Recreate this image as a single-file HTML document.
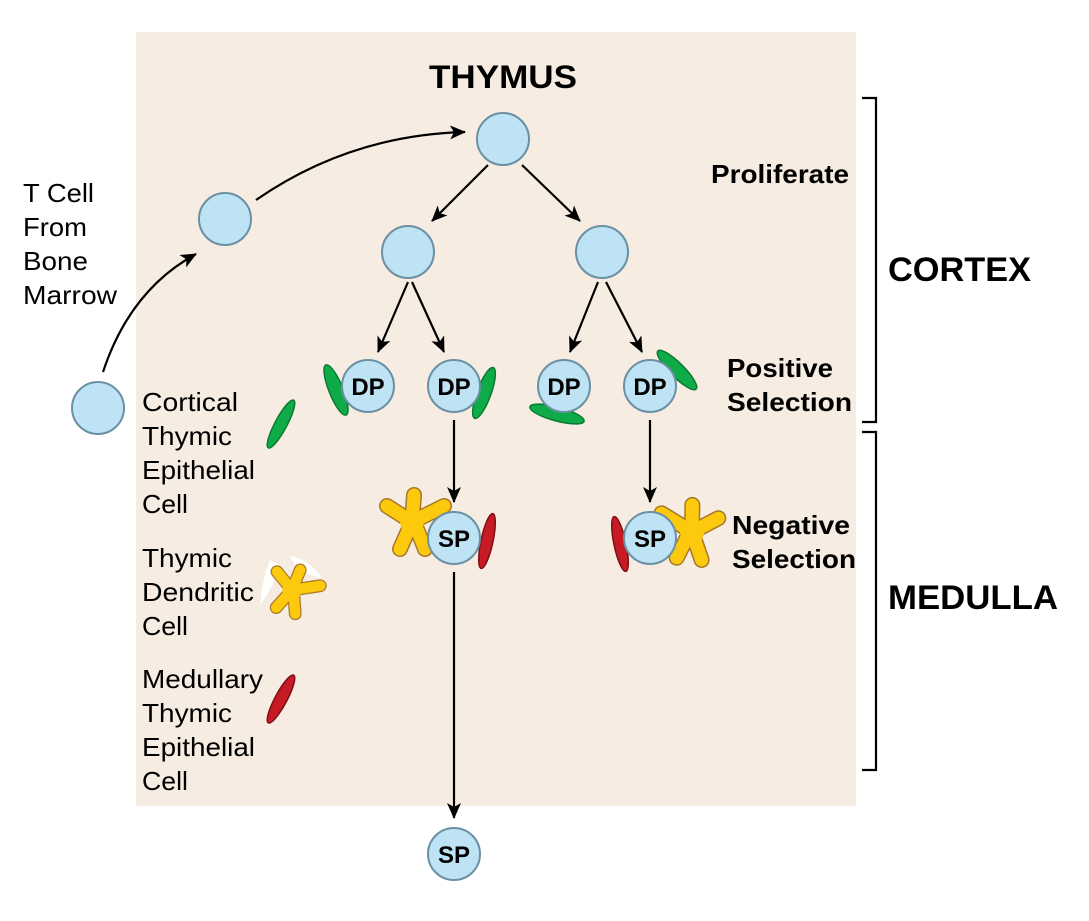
<!DOCTYPE html>
<html><head><meta charset="utf-8"><style>
body{margin:0;background:#fff}
svg{display:block}
text{font-family:"Liberation Sans",Arial,sans-serif}
.b{font-weight:bold}
</style></head><body>
<svg width="1089" height="921" viewBox="0 0 1089 921" xmlns="http://www.w3.org/2000/svg">
<defs>
<marker id="a" markerWidth="16" markerHeight="14" refX="15" refY="7" orient="auto" markerUnits="userSpaceOnUse" viewBox="0 0 16 14">
<path d="M0,0 L16,7 L0,14 L4,7 Z" fill="#000"/></marker>
<g id="dc">
<g stroke="#a7782a" stroke-width="16" stroke-linecap="round" fill="none">
<path d="M0,0 L-12,27 M2,0 L13,27 M0,0 L-25,-16 M0,0 L2,-27 M0,0 L32,-16"/></g>
<g stroke="#fdc90c" stroke-width="13" stroke-linecap="round" fill="none">
<path d="M0,0 L-12,27 M2,0 L13,27 M0,0 L-25,-16 M0,0 L2,-27 M0,0 L32,-16"/></g>
<circle r="12" fill="#fdc90c"/>
</g>
</defs>
<rect x="136" y="32" width="720" height="774" fill="#f6ece1"/>
<text x="429" y="88" class="b" font-size="32" textLength="148" lengthAdjust="spacingAndGlyphs">THYMUS</text>
<text x="711" y="183" class="b" font-size="26" textLength="138" lengthAdjust="spacingAndGlyphs">Proliferate</text>
<text x="727" y="377" class="b" font-size="26" textLength="106" lengthAdjust="spacingAndGlyphs">Positive</text>
<text x="727" y="411" class="b" font-size="26" textLength="125" lengthAdjust="spacingAndGlyphs">Selection</text>
<text x="732" y="534" class="b" font-size="26" textLength="118" lengthAdjust="spacingAndGlyphs">Negative</text>
<text x="732" y="568" class="b" font-size="26" textLength="124" lengthAdjust="spacingAndGlyphs">Selection</text>
<text x="888" y="281" class="b" font-size="34" textLength="143" lengthAdjust="spacingAndGlyphs">CORTEX</text>
<text x="888" y="609" class="b" font-size="34" textLength="170" lengthAdjust="spacingAndGlyphs">MEDULLA</text>
<g font-size="26">
<text x="23" y="202" textLength="71" lengthAdjust="spacingAndGlyphs">T Cell</text><text x="23" y="236" textLength="64" lengthAdjust="spacingAndGlyphs">From</text><text x="23" y="270" textLength="65" lengthAdjust="spacingAndGlyphs">Bone</text><text x="23" y="304" textLength="94" lengthAdjust="spacingAndGlyphs">Marrow</text>
<text x="142" y="411" textLength="96" lengthAdjust="spacingAndGlyphs">Cortical</text><text x="142" y="445" textLength="90" lengthAdjust="spacingAndGlyphs">Thymic</text><text x="142" y="479" textLength="113" lengthAdjust="spacingAndGlyphs">Epithelial</text><text x="142" y="513" textLength="46" lengthAdjust="spacingAndGlyphs">Cell</text>
<text x="142" y="567" textLength="90" lengthAdjust="spacingAndGlyphs">Thymic</text><text x="142" y="601" textLength="112" lengthAdjust="spacingAndGlyphs">Dendritic</text><text x="142" y="635" textLength="46" lengthAdjust="spacingAndGlyphs">Cell</text>
<text x="142" y="688" textLength="121" lengthAdjust="spacingAndGlyphs">Medullary</text><text x="142" y="722" textLength="90" lengthAdjust="spacingAndGlyphs">Thymic</text><text x="142" y="756" textLength="113" lengthAdjust="spacingAndGlyphs">Epithelial</text><text x="142" y="790" textLength="46" lengthAdjust="spacingAndGlyphs">Cell</text>
</g>
<g stroke="#000" stroke-width="2.2" fill="none">
<path d="M862,98 H876 V422 H862"/><path d="M862,432 H876 V770 H862"/>
</g>
<g stroke="#000" stroke-width="2.2" fill="none" marker-end="url(#a)">
<path d="M103,372 Q130,290 196,254"/>
<path d="M256,200 Q350,135 465,132"/>
<path d="M488,165 L432,221"/><path d="M522,165 L580,221"/>
<path d="M408,282 L378,352"/><path d="M412,282 L444,352"/>
<path d="M598,282 L570,352"/><path d="M606,282 L642,352"/>
<path d="M454,420 L454,502"/><path d="M650,420 L650,502"/>
<path d="M454,572 L454,818"/>
</g>
<g fill="#0fab48" stroke="#087a31" stroke-width="1.5">
<ellipse cx="336" cy="390" rx="7" ry="27" transform="rotate(-22 336 390)"/>
<ellipse cx="484" cy="393" rx="7" ry="27" transform="rotate(20 484 393)"/>
<ellipse cx="557" cy="414" rx="28" ry="7" transform="rotate(15 557 414)"/>
<ellipse cx="677" cy="370" rx="7" ry="27" transform="rotate(-45 677 370)"/>
<ellipse cx="281" cy="424" rx="6" ry="27" transform="rotate(28 281 424)"/>
</g>
<g fill="#c61a24" stroke="#7d0e14" stroke-width="1.5">
<ellipse cx="487" cy="541" rx="6" ry="28" transform="rotate(12 487 541)"/>
<ellipse cx="620" cy="544" rx="6" ry="28" transform="rotate(-12 620 544)"/>
<ellipse cx="281" cy="699" rx="6" ry="27" transform="rotate(28 281 699)"/>
</g>
<path d="M270,560 Q262,580 260,605 Q272,590 280,565 Z M290,556 Q310,560 322,578 Q306,575 295,565 Z" fill="#fff"/>
<use href="#dc" transform="translate(412,522)"/>
<use href="#dc" transform="translate(692,532) scale(-1,1) rotate(-5)"/>
<use href="#dc" transform="translate(292,590) rotate(18) scale(0.8)"/>
<g fill="#bde3f5" stroke="#6b8fa3" stroke-width="2">
<circle cx="98" cy="408" r="26"/><circle cx="225" cy="219" r="26"/>
<circle cx="503" cy="139" r="26"/><circle cx="408" cy="252" r="26"/><circle cx="602" cy="252" r="26"/>
<circle cx="368" cy="386" r="26"/><circle cx="454" cy="386" r="26"/><circle cx="564" cy="386" r="26"/><circle cx="650" cy="386" r="26"/>
<circle cx="454" cy="538" r="26"/><circle cx="650" cy="538" r="26"/><circle cx="454" cy="854" r="26"/>
</g>
<g class="b" font-size="24" text-anchor="middle">
<text x="368" y="395">DP</text><text x="454" y="395">DP</text><text x="564" y="395">DP</text><text x="650" y="395">DP</text>
<text x="454" y="547">SP</text><text x="650" y="547">SP</text><text x="454" y="863">SP</text>
</g>
</svg>
</body></html>
